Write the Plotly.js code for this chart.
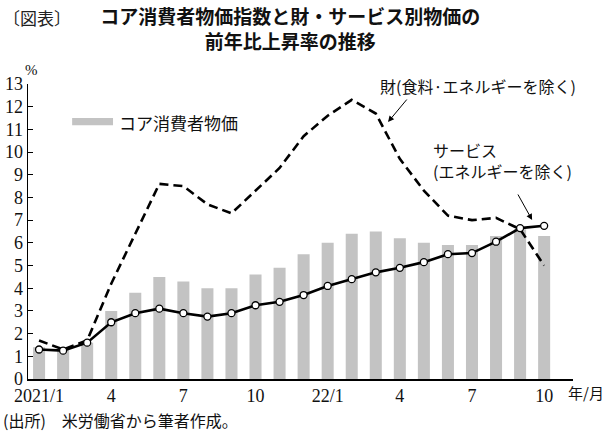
<!DOCTYPE html>
<html>
<head>
<meta charset="utf-8">
<script src="https://cdn.plot.ly/plotly-3.0.1.min.js"></script>
<style>html,body{margin:0;padding:0;background:#fff;}#chart{width:607px;height:436px;}</style>
</head>
<body>
<div id="chart"></div>
<script>
// Months 2021/1 .. 2022/10
const months = ["2021/1","2","3","4","5","6","7","8","9","10","11","12",
                "22/1","2","3","4","5","6","7","8","9","10"];
const tickLabels = ["2021/1","4","7","10","22/1","4","7","10"];
const tickIndex = [0,3,6,9,12,15,18,21];
const coreCPI = [1.4,1.3,1.6,3.0,3.8,4.5,4.3,4.0,4.0,4.6,4.9,5.5,6.0,6.4,6.5,6.2,6.0,5.9,5.9,6.3,6.6,6.3];
const goodsExFoodEnergy = [1.7,1.3,1.7,4.2,6.4,8.6,8.5,7.7,7.3,8.3,9.3,10.7,11.6,12.3,11.7,9.7,8.3,7.2,7.0,7.1,6.6,5.0];
const servicesExEnergy = [1.3,1.25,1.6,2.5,2.9,3.1,2.9,2.75,2.9,3.25,3.4,3.7,4.1,4.4,4.7,4.9,5.15,5.5,5.55,6.05,6.65,6.75];

const idx = months.map((m,i)=>i);
const jp = "Noto Sans CJK JP";
const serif = "Liberation Serif";

const traces = [
  {type:"bar", x:idx, y:coreCPI, name:"コア消費者物価", marker:{color:"#c3c3c3"}, width:0.5, hoverinfo:"skip"},
  {type:"scatter", mode:"lines", x:idx, y:goodsExFoodEnergy, name:"財(食料·エネルギーを除く)",
   line:{color:"#000", width:2.6, dash:"9px,5px"}},
  {type:"scatter", mode:"lines+markers", x:idx, y:servicesExEnergy, name:"サービス(エネルギーを除く)",
   line:{color:"#000", width:2.6}, marker:{size:7, color:"#fff", line:{color:"#000", width:1.3}}}
];

const layout = {
  width:607, height:436,
  margin:{l:28, r:34, t:84, b:57},
  paper_bgcolor:"#fff", plot_bgcolor:"#fff",
  showlegend:false,
  title:{text:"コア消費者物価指数と財・サービス別物価の<br>前年比上昇率の推移",
         font:{family:jp, size:19, color:"#111", weight:700},
         xref:"container", x:0.478, xanchor:"center", yref:"container", y:0.944, yanchor:"middle"},
  xaxis:{range:[-0.46,22.2], tickvals:tickIndex, ticktext:tickLabels, showgrid:false, zeroline:false,
         showline:true, linecolor:"#000", linewidth:1.5, ticks:"", tickfont:{family:serif, size:18, color:"#111"}},
  yaxis:{range:[0,13], dtick:1, showgrid:false, zeroline:false, showline:true, linecolor:"#000", linewidth:1.5,
         ticks:"inside", ticklen:5, tickcolor:"#000", tickfont:{family:serif, size:18, color:"#111"}},
  shapes:[
    {type:"rect", xref:"paper", yref:"paper", x0:0.081, x1:0.156, y0:0.86, y1:0.885, fillcolor:"#c3c3c3", line:{width:0}}
  ],
  annotations:[
    {text:"〔図表〕", xref:"paper", yref:"paper", x:-0.05, y:1.227, xanchor:"left", yanchor:"middle", showarrow:false,
     font:{family:jp, size:17, color:"#222"}},
    {text:"%", xref:"paper", yref:"paper", x:0.006, y:1.047, xanchor:"center", yanchor:"middle", showarrow:false,
     font:{family:serif, size:15, color:"#111"}},
    {text:"年/月", xref:"paper", yref:"paper", x:0.987, y:-0.047, xanchor:"left", yanchor:"middle", showarrow:false,
     font:{family:jp, size:15, color:"#111"}},
    {text:"コア消費者物価", xref:"paper", yref:"paper", x:0.163, y:0.871, xanchor:"left", yanchor:"middle", showarrow:false,
     font:{family:jp, size:17, color:"#111"}},
    {text:"財(食料·エネルギーを除く)", xref:"paper", yref:"paper", x:0.826, y:0.993, xanchor:"center", yanchor:"middle", showarrow:false,
     font:{family:jp, size:16, color:"#111"}},
    {text:"", xref:"paper", yref:"paper", x:0.6606, y:0.871, ax:20, ay:-24, showarrow:true, arrowhead:2, arrowsize:1.2, arrowwidth:1, arrowcolor:"#000"},
    {text:"サービス<br>(エネルギーを除く)", xref:"paper", yref:"paper", x:0.74, y:0.74, xanchor:"left", yanchor:"middle", align:"left", showarrow:false,
     font:{family:jp, size:16, color:"#111"}},
    {text:"", xref:"paper", yref:"paper", x:0.925, y:0.539, ax:-15, ay:-27, showarrow:true, arrowhead:2, arrowsize:1.2, arrowwidth:1, arrowcolor:"#000"},
    {text:"(出所)　米労働省から筆者作成。", xref:"paper", yref:"paper", x:-0.05, y:-0.139, xanchor:"left", yanchor:"middle", showarrow:false,
     font:{family:jp, size:16, color:"#111"}}
  ]
};

Plotly.newPlot("chart", traces, layout, {staticPlot:true, displayModeBar:false});
</script>
</body>
</html>
